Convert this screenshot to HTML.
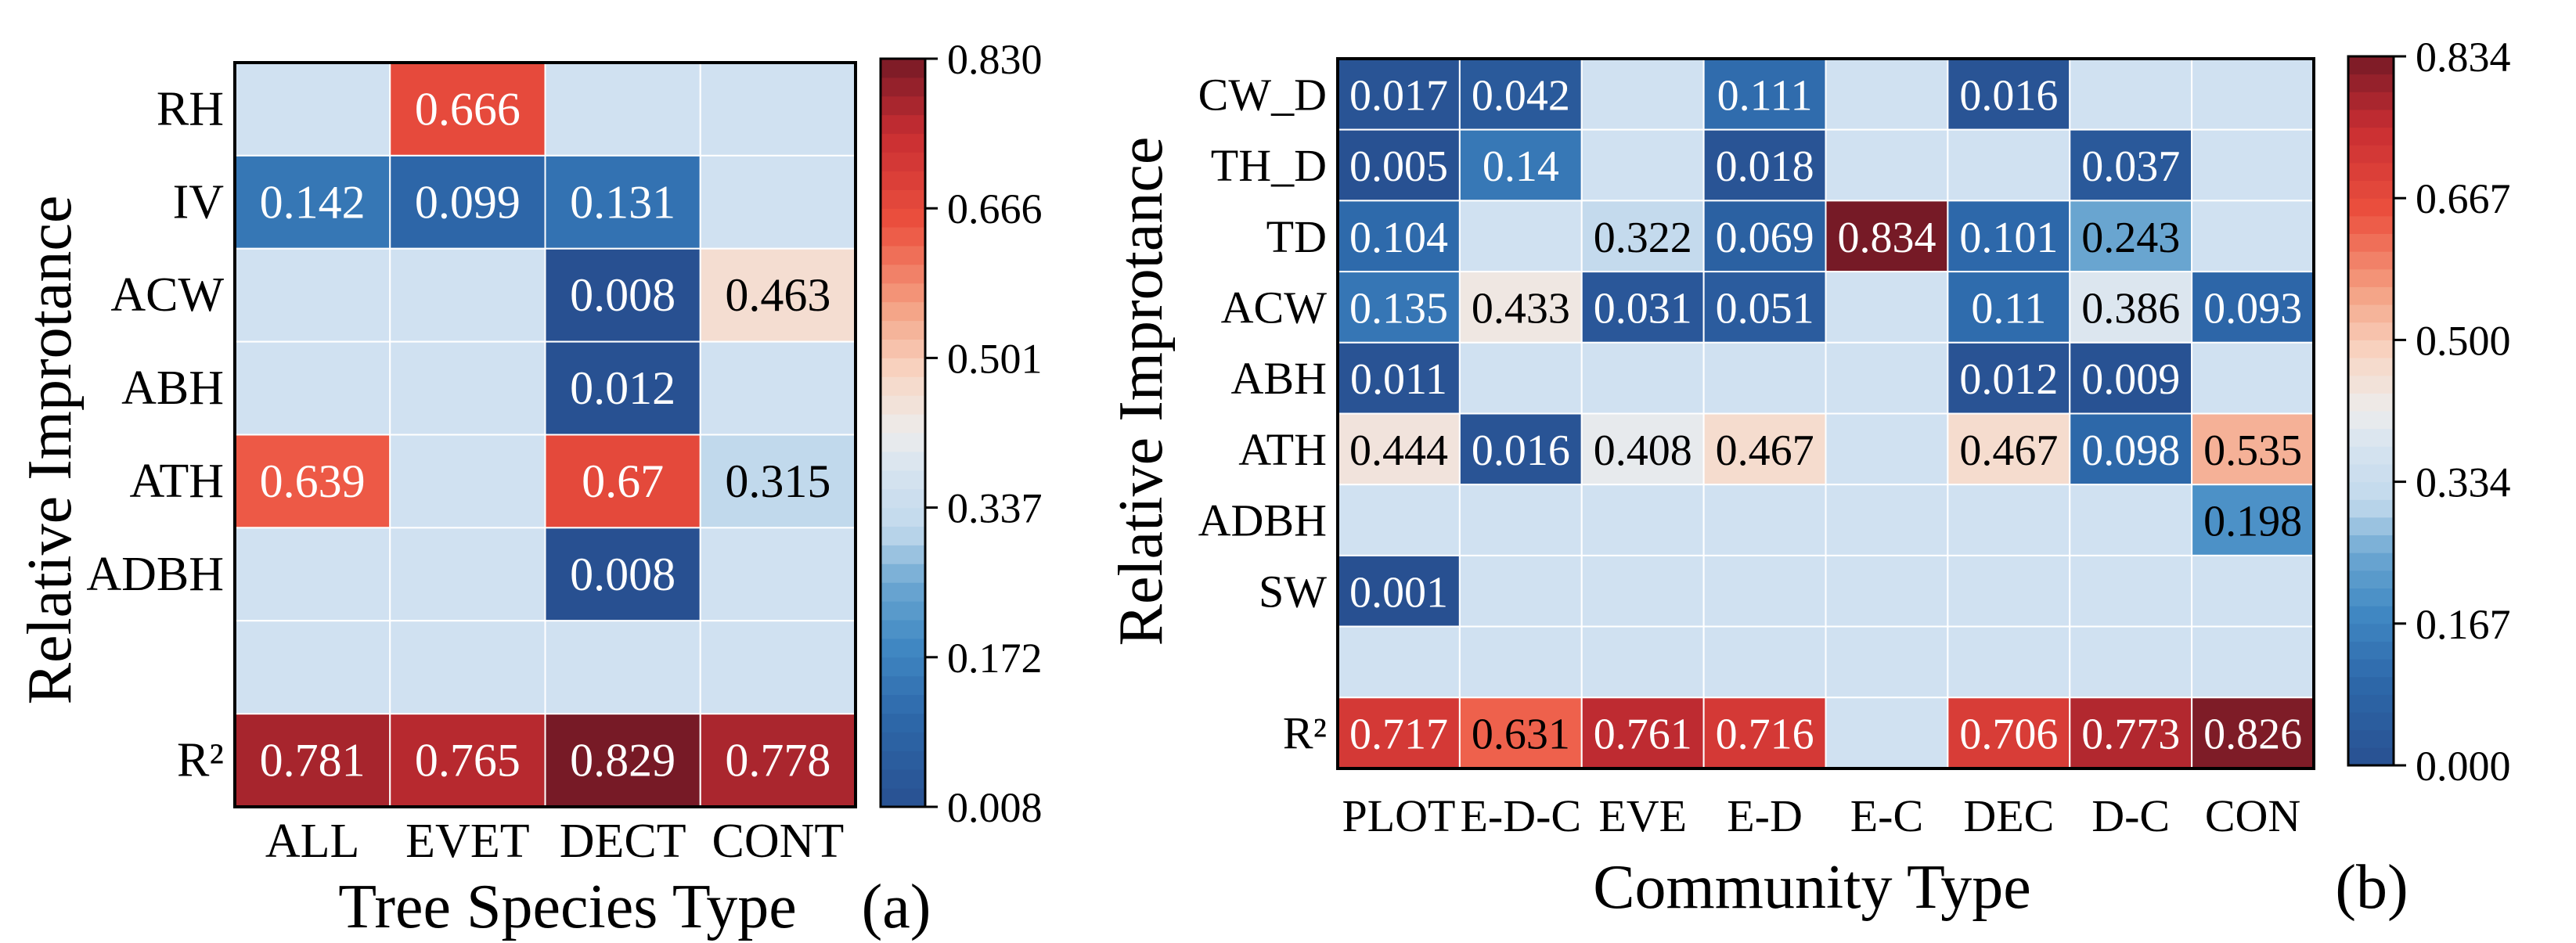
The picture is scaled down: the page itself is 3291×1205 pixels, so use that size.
<!DOCTYPE html>
<html><head><meta charset="utf-8"><style>
html,body{margin:0;padding:0;background:#fff;}
svg{display:block;font-family:"Liberation Serif",serif;}
</style></head><body>
<svg id="fig" width="3291" height="1205" viewBox="0 0 3291 1205" xmlns="http://www.w3.org/2000/svg"></svg>
<script>
// ---- Panel (a) data ----
const aCols = ["ALL","EVET","DECT","CONT"];
const aRows = ["RH","IV","ACW","ABH","ATH","ADBH","","R²"];
const aVals = [
  [null,0.666,null,null],
  [0.142,0.099,0.131,null],
  [null,null,0.008,0.463],
  [null,null,0.012,null],
  [0.639,null,0.67,0.315],
  [null,null,0.008,null],
  [null,null,null,null],
  [0.781,0.765,0.829,0.778]
];
const aTicks = ["0.008","0.172","0.337","0.501","0.666","0.830"];
const aMin = 0.008, aMax = 0.830;
// ---- Panel (b) data ----
const bCols = ["PLOT","E-D-C","EVE","E-D","E-C","DEC","D-C","CON"];
const bRows = ["CW_D","TH_D","TD","ACW","ABH","ATH","ADBH","SW","","R²"];
const bVals = [
  [0.017,0.042,null,0.111,null,0.016,null,null],
  [0.005,0.14,null,0.018,null,null,0.037,null],
  [0.104,null,0.322,0.069,0.834,0.101,0.243,null],
  [0.135,0.433,0.031,0.051,null,0.11,0.386,0.093],
  [0.011,null,null,null,null,0.012,0.009,null],
  [0.444,0.016,0.408,0.467,null,0.467,0.098,0.535],
  [null,null,null,null,null,null,null,0.198],
  [0.001,null,null,null,null,null,null,null],
  [null,null,null,null,null,null,null,null],
  [0.717,0.631,0.761,0.716,null,0.706,0.773,0.826]
];
const bTicks = ["0.000","0.167","0.334","0.500","0.667","0.834"];
const bMin = 0, bMax = 0.834;

const NS="http://www.w3.org/2000/svg";
const svg=document.getElementById('fig');
function mk(tag,attrs,parent){const e=document.createElementNS(NS,tag);for(const k in attrs)e.setAttribute(k,attrs[k]);(parent||svg).appendChild(e);return e;}
const stops=[[0,[40,80,145]],[0.12,[45,104,170]],[0.22,[66,138,196]],[0.3,[110,168,210]],[0.37,[192,216,236]],[0.45,[214,228,240]],[0.5,[236,236,236]],[0.58,[248,214,196]],[0.67,[244,160,130]],[0.78,[236,80,62]],[0.9,[200,45,50]],[1,[118,26,38]]];
function cmap(t){t=Math.max(0,Math.min(1,t));for(let i=1;i<stops.length;i++){if(t<=stops[i][0]){const a=stops[i-1],b=stops[i];const f=(t-a[0])/(b[0]-a[0]);const c=a[1].map((v,j)=>Math.round(v+(b[1][j]-v)*f));return `rgb(${c})`;}}return 'rgb(118,26,38)';}
const BLANK='#d0e1f1';

function panel(o){
  const cw=(o.x1-o.x0)/o.cols.length, rh=(o.y1-o.y0)/o.rows.length;
  const xs=i=>o.x0+i*cw, ys=j=>o.y0+j*rh;
  const norm=v=>(v-o.vmin)/(o.vmax-o.vmin);
  const g=mk('g',{});
  
  
  o.vals.forEach((row,j)=>row.forEach((v,i)=>{
    const r=mk('rect',{x:xs(i),y:ys(j),width:cw,height:rh,fill:v==null?BLANK:cmap(norm(v)),stroke:'#fff','stroke-width':2},g);
    
    
    if(v!=null){const n=norm(v);
      const t=mk('text',{x:xs(i)+cw/2,y:ys(j)+rh/2+20,'text-anchor':'middle','font-size':o.vfs,fill:(n>0.2&&n<0.765)?'#000':'#fff'},g);
      t.textContent=String(v);
      
      }
  }));
  const fr=mk('rect',{x:o.x0,y:o.y0,width:o.x1-o.x0,height:o.y1-o.y0,fill:'none',stroke:'#000','stroke-width':4});
  
  o.rows.forEach((r,j)=>{if(!r)return;const t=mk('text',{x:o.x0-14,y:ys(j)+rh/2+20,'text-anchor':'end','font-size':o.tfs});t.textContent=r;
    });
  o.cols.forEach((c,i)=>{const t=mk('text',{x:xs(i)+cw/2,y:o.xly,'text-anchor':'middle','font-size':o.tfs});t.textContent=c;
    });
  const N=40,ch=(o.cy1-o.cy0)/N;
  for(let k=0;k<N;k++){const r=mk('rect',{x:o.cx0,y:o.cy1-(k+1)*ch-0.5,width:o.cx1-o.cx0,height:ch+1,fill:cmap((k+0.5)/N)});
    }
  const cf=mk('rect',{x:o.cx0,y:o.cy0,width:o.cx1-o.cx0,height:o.cy1-o.cy0,fill:'none',stroke:'#000','stroke-width':3});
  
  o.ticks.forEach((tk,k)=>{const y=o.cy1-(o.cy1-o.cy0)*k/(o.ticks.length-1);
    mk('line',{x1:o.cx1,x2:o.cx1+16,y1:y,y2:y,stroke:'#000','stroke-width':3});
    const t=mk('text',{x:o.cx1+28,y:y+19,'font-size':o.cfs});t.textContent=tk;
    });
  const xt=mk('text',{x:o.xtx,y:o.xty,'text-anchor':'middle','font-size':o.afs});xt.textContent=o.xtitle;
  
  const yt=mk('text',{x:0,y:0,'text-anchor':'middle','font-size':o.afs,transform:`translate(${o.ytx},${o.yty}) rotate(-90)`});yt.textContent='Relative Improtance';
  
  const pl=mk('text',{x:o.plx,y:o.xty,'text-anchor':'middle','font-size':o.afs});pl.textContent=o.plabel;
  
}
panel({name:'panel-a',cols:aCols,rows:aRows,vals:aVals,ticks:aTicks,vmin:aMin,vmax:aMax,
  x0:300,x1:1093,y0:80,y1:1031,cx0:1125,cx1:1182,cy0:75,cy1:1031,vfs:60,tfs:62,cfs:54,afs:80,
  xly:1095,xtx:725,xty:1185,ytx:90,yty:575,xtitle:'Tree Species Type',plx:1145,plabel:'(a)'});
panel({name:'panel-b',cols:bCols,rows:bRows,vals:bVals,ticks:bTicks,vmin:bMin,vmax:bMax,
  x0:1709,x1:2956,y0:75,y1:982,cx0:3000,cx1:3058,cy0:72,cy1:978,vfs:56,tfs:58,cfs:54,afs:80,
  xly:1062,xtx:2315,xty:1160,ytx:1484,yty:500,xtitle:'Community Type',plx:3030,plabel:'(b)'});
</script>
</body></html>
